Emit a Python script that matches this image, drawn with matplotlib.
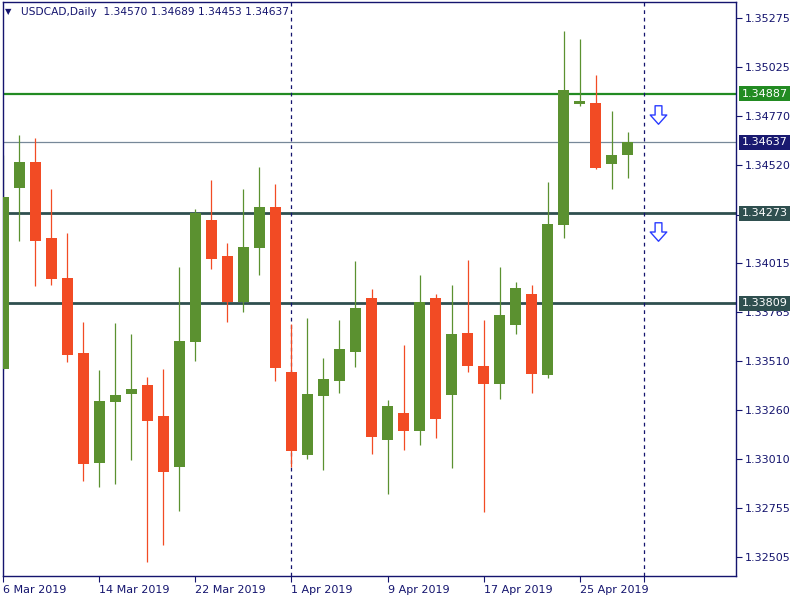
import numpy as np
import pandas as pd
import matplotlib
matplotlib.use("Agg")
import matplotlib.pyplot as plt
import matplotlib.transforms as mtransforms
from matplotlib.path import Path

# daily bars, 6 Mar .. 30 Apr 2019
dates = pd.bdate_range("2019-03-06", "2019-04-30")
opens = [1.33472, 1.34403, 1.34536, 1.34145, 1.33939, 1.33553, 1.32989, 1.33302,
         1.33344, 1.33388, 1.33229, 1.32968, 1.33611, 1.34237, 1.34052, 1.33815,
         1.34095, 1.34304, 1.33455, 1.33030, 1.33333, 1.33410, 1.33560, 1.33836,
         1.33107, 1.33244, 1.33153, 1.33836, 1.33338, 1.33656, 1.33486, 1.33395,
         1.33699, 1.33857, 1.33441, 1.34213, 1.34836, 1.34839, 1.34527, 1.34570]
highs = [1.34572, 1.34675, 1.34659, 1.34397, 1.34170, 1.33712, 1.33466, 1.33707,
         1.33651, 1.33430, 1.33471, 1.33995, 1.34294, 1.34443, 1.34119, 1.34397,
         1.34510, 1.34422, 1.33702, 1.33733, 1.33527, 1.33723, 1.34026, 1.33882,
         1.33311, 1.33594, 1.33954, 1.33857, 1.33903, 1.34032, 1.33723, 1.33995,
         1.33918, 1.33903, 1.34433, 1.35210, 1.35169, 1.34983, 1.34798, 1.34689]
lows = [1.33468, 1.34131, 1.33899, 1.33904, 1.33508, 1.32896, 1.32865, 1.32879,
        1.33004, 1.32479, 1.32567, 1.32742, 1.33513, 1.33987, 1.33712, 1.33764,
        1.33956, 1.33410, 1.32968, 1.33009, 1.32953, 1.33349, 1.33483, 1.33035,
        1.32829, 1.33055, 1.33081, 1.33117, 1.32963, 1.33457, 1.32737, 1.33318,
        1.33652, 1.33349, 1.33426, 1.34146, 1.34825, 1.34500, 1.34398, 1.34453]
closes = [1.34357, 1.34536, 1.34131, 1.33935, 1.33544, 1.32983, 1.33306, 1.33337,
          1.33368, 1.33205, 1.32942, 1.33615, 1.34275, 1.34038, 1.33815, 1.34098,
          1.34304, 1.33477, 1.33050, 1.33342, 1.33419, 1.33574, 1.33785, 1.33122,
          1.33280, 1.33153, 1.33815, 1.33215, 1.33651, 1.33488, 1.33395, 1.33749,
          1.33887, 1.33447, 1.34217, 1.34906, 1.34850, 1.34506, 1.34572, 1.34637]

price_ticks = [1.35275, 1.35025, 1.34770, 1.34520, 1.34265, 1.34015, 1.33765,
               1.33510, 1.33260, 1.33010, 1.32755, 1.32505]
hidden_ticks = [1.34265]   # sits under the 1.34273 tag
date_labels = ["6 Mar 2019", "14 Mar 2019", "22 Mar 2019", "1 Apr 2019",
               "9 Apr 2019", "17 Apr 2019", "25 Apr 2019", ""]
date_ticks = ["2019-03-06", "2019-03-14", "2019-03-22", "2019-04-01",
              "2019-04-09", "2019-04-17", "2019-04-25", "2019-05-01"]
month_starts = ["2019-04-01", "2019-05-01"]

resistance = 1.34887
bid = 1.34637
supports = [1.34273, 1.33809]
arrow_prices = [1.34780, 1.34178]

NAVY = "#14146e"
UP = "#5b9130"
DN = "#f24b24"

all_days = pd.bdate_range("2019-03-06", "2019-05-01")
def pos(d):
    return all_days.get_loc(pd.Timestamp(d))

x = np.arange(len(dates))
o = np.array(opens); h = np.array(highs); l = np.array(lows); c = np.array(closes)
cols = np.where(c >= o, UP, DN)

fig = plt.figure(figsize=(8, 6), dpi=100)
ax = fig.add_axes([3 / 800, 1 - 575.7 / 600, 733 / 800, 573.7 / 600])

# levels
ax.axhline(resistance, color="#228b22", lw=1.6, zorder=1)
ax.axhline(bid, color="#778899", lw=0.9, zorder=1)
for s in supports:
    ax.axhline(s, color="#2f4f4f", lw=2.0, zorder=1)
for m in month_starts:
    ax.axvline(pos(m), color=NAVY, lw=0.9, ls=(0, (3, 3)), zorder=1)

# candles
ax.vlines(x, l, h, colors=cols, lw=0.9, zorder=2)
body = np.maximum(np.abs(c - o), 0.00003)
ax.bar(x, body, bottom=np.minimum(o, c), width=0.69, color=cols, linewidth=0, zorder=3)

# hollow down arrows
arr = Path([(-0.35, 1), (0.35, 1), (0.35, 0.05), (0.85, 0.05), (0, -0.9),
            (-0.85, 0.05), (-0.35, 0.05), (-0.35, 1)], closed=True)
ax.plot([40.9] * len(arrow_prices), arrow_prices, ls="none", marker=arr, ms=14,
        mfc="white", mec="#2a3cff", mew=1.0, zorder=4)

ax.set_xlim(-0.03, 45.78)
ax.set_ylim(1.32407, 1.35359)

ax.yaxis.tick_right()
ax.set_yticks(price_ticks)
ax.set_yticklabels(["" if p in hidden_ticks else f"{p:.5f}" for p in price_ticks])
ax.set_xticks([pos(d) for d in date_ticks])
ax.set_xticklabels(date_labels, ha="left")
ax.tick_params(axis="both", colors=NAVY, labelsize=8, length=4, width=0.8, pad=2)
ax.tick_params(axis="x", pad=3)
for sp in ax.spines.values():
    sp.set_color(NAVY)
    sp.set_linewidth(1.0)

# price labels on the right scale
tr = mtransforms.blended_transform_factory(ax.transAxes, ax.transData)
tags = [(resistance, "#228b22"), (bid, "#191970")] + [(s, "#2f4f4f") for s in supports]
for p, col in tags:
    ax.text(1.008, p, f"{p:.5f}", transform=tr, ha="left", va="center", fontsize=8,
            color="white", zorder=10, clip_on=False,
            bbox=dict(boxstyle="square,pad=0.22", fc=col, ec="none"))

# header
fig.text(5 / 800, 1 - 12 / 600, "\u25bc", fontsize=6, color=NAVY, va="center")
fig.text(21 / 800, 1 - 12 / 600,
         f"USDCAD,Daily  {opens[-1]:.5f} {highs[-1]:.5f} {lows[-1]:.5f} {closes[-1]:.5f}",
         fontsize=7.7, color=NAVY, va="center")

fig.savefig("out.png", dpi=100, facecolor="white")
